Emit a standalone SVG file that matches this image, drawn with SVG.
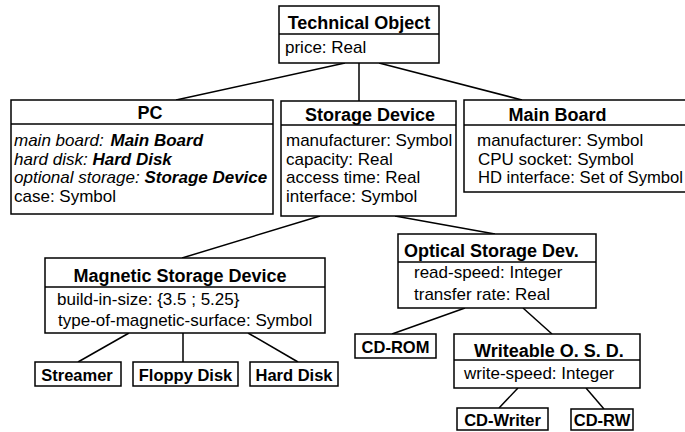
<svg xmlns="http://www.w3.org/2000/svg" width="685" height="432" viewBox="0 0 685 432">
<style>
rect, .div { fill: #fff; stroke: #000; stroke-width: 1.5; }
.div { fill: none; }
text { font-family: "Liberation Sans", Arial, sans-serif; fill: #000; }
.t { font-size: 18px; font-weight: bold; }
.b { font-size: 17px; }
.l { font-size: 16.5px; font-weight: bold; text-anchor: middle; }
.c { text-anchor: middle; }
.i { font-style: italic; }
.bi { font-style: italic; font-weight: bold; }
#connectors line { stroke: #000; stroke-width: 1.5; }
</style>
<rect x="0" y="0" width="685" height="432" style="fill:#fff;stroke:none"/>
<g id="connectors">
<line x1="345" y1="63" x2="176" y2="100"/>
<line x1="359" y1="63" x2="359" y2="101"/>
<line x1="379" y1="63" x2="522" y2="100"/>
<line x1="320" y1="216" x2="182" y2="258"/>
<line x1="395" y1="216" x2="495" y2="234"/>
<line x1="129" y1="333" x2="78" y2="362"/>
<line x1="183" y1="333" x2="183" y2="362"/>
<line x1="248" y1="333" x2="298" y2="362"/>
<line x1="465" y1="308" x2="392" y2="334"/>
<line x1="523" y1="308" x2="552" y2="334"/>
<line x1="518" y1="388" x2="499" y2="408"/>
<line x1="586" y1="388" x2="604" y2="409"/>
</g>
<g id="technical-object">
<rect x="279" y="6" width="160" height="57"/>
<line class="div" x1="279" y1="34" x2="439" y2="34"/>
<text class="t c" x="359" y="29">Technical Object</text>
<text class="b" x="285" y="53">price: Real</text>
</g>
<g id="pc">
<rect x="11" y="100" width="262" height="114"/>
<line class="div" x1="11" y1="124" x2="273" y2="124"/>
<text class="t c" x="150" y="119">PC</text>
<text class="b" x="14" y="146"><tspan class="i">main board: </tspan><tspan class="bi" dx="2">Main Board</tspan></text>
<text class="b" x="14" y="164.5"><tspan class="i">hard disk: </tspan><tspan class="bi">Hard Disk</tspan></text>
<text class="b" x="14" y="183"><tspan class="i">optional storage: </tspan><tspan class="bi">Storage Device</tspan></text>
<text class="b" x="14" y="201.5">case: Symbol</text>
</g>
<g id="storage-device">
<rect x="281" y="101" width="175" height="115"/>
<line class="div" x1="281" y1="125" x2="456" y2="125"/>
<text class="t c" x="370" y="121">Storage Device</text>
<text class="b" x="286" y="146">manufacturer: Symbol</text>
<text class="b" x="286" y="165">capacity: Real</text>
<text class="b" x="286" y="183">access time: Real</text>
<text class="b" x="286" y="202">interface: Symbol</text>
</g>
<g id="main-board">
<rect x="464" y="100" width="240" height="92"/>
<line class="div" x1="464" y1="125" x2="704" y2="125"/>
<text class="t c" x="557.5" y="121">Main Board</text>
<text class="b" x="477" y="146">manufacturer: Symbol</text>
<text class="b" x="478" y="165">CPU socket: Symbol</text>
<text class="b" x="478" y="183" textLength="205" lengthAdjust="spacingAndGlyphs">HD interface: Set of Symbol</text>
</g>
<g id="magnetic-storage-device">
<rect x="45" y="258" width="280" height="75"/>
<line class="div" x1="45" y1="287" x2="325" y2="287"/>
<text class="t c" x="180" y="282">Magnetic Storage Device</text>
<text class="b" x="57" y="305">build-in-size: {3.5 ; 5.25}</text>
<text class="b" x="58" y="326">type-of-magnetic-surface: Symbol</text>
</g>
<g id="optical-storage-dev">
<rect x="398" y="234" width="198" height="74"/>
<text class="t" x="404" y="257">Optical Storage<tspan dx="5">Dev.</tspan></text>
<line class="div" x1="398" y1="262" x2="596" y2="262"/>
<text class="b" x="414" y="278">read-speed: Integer</text>
<text class="b" x="414" y="300">transfer rate: Real</text>
</g>
<g id="streamer">
<rect x="35" y="362" width="86" height="24"/>
<text class="l" x="77" y="381">Streamer</text>
</g>
<g id="floppy-disk">
<rect x="133" y="362" width="105" height="24"/>
<text class="l" x="185.5" y="381">Floppy Disk</text>
</g>
<g id="hard-disk">
<rect x="250" y="362" width="88" height="24"/>
<text class="l" x="294" y="381">Hard Disk</text>
</g>
<g id="cd-rom">
<rect x="355" y="334" width="81" height="24"/>
<text class="l" x="395.5" y="353">CD-ROM</text>
</g>
<g id="writeable-osd">
<rect x="454" y="334" width="186" height="54"/>
<text class="t" x="474" y="357">Writeable O. S. D.</text>
<line class="div" x1="454" y1="360" x2="640" y2="360"/>
<text class="b" x="464" y="379">write-speed: Integer</text>
</g>
<g id="cd-writer">
<rect x="457" y="408" width="91" height="22"/>
<text class="l" x="502.5" y="426">CD-Writer</text>
</g>
<g id="cd-rw">
<rect x="571" y="409" width="62" height="21"/>
<text class="l" x="602" y="426">CD-RW</text>
</g>
</svg>
